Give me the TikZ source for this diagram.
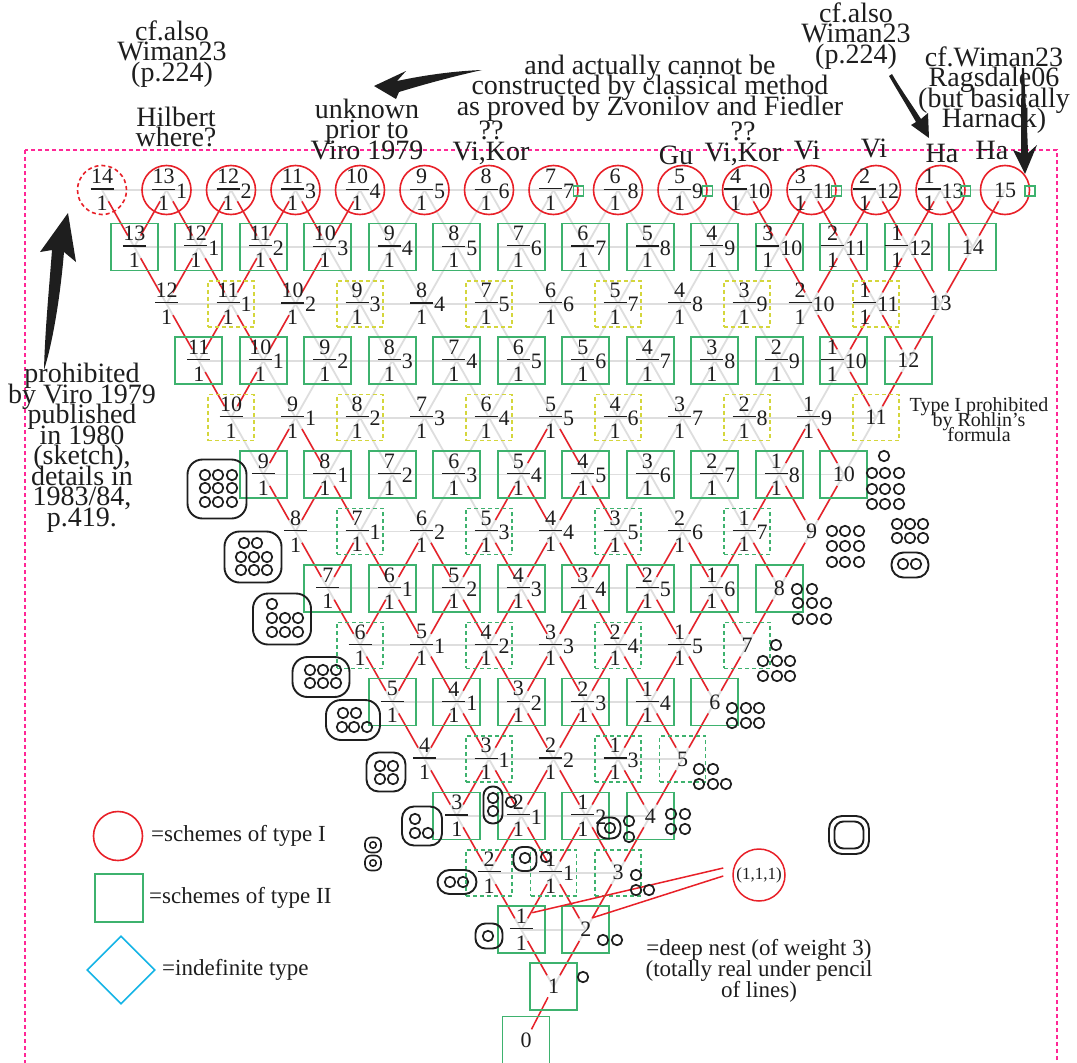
\documentclass[tikz,border=0pt]{standalone}
\usepackage{fontspec}
\setmainfont{Liberation Serif}
\usetikzlibrary{calc,backgrounds,shapes.geometric}
\definecolor{redc}{RGB}{232,32,40}
\definecolor{greenc}{RGB}{62,178,110}
\definecolor{yelc}{RGB}{212,214,60}
\definecolor{greyc}{RGB}{222,222,222}
\definecolor{pinkc}{RGB}{255,40,150}
\definecolor{cyanc}{RGB}{20,180,230}
\definecolor{inkc}{RGB}{30,30,30}
\setlength\lineskiplimit{-60pt}
\setlength\lineskip{0pt}
\newcommand\fr[1]{$\vcenter{\offinterlineskip\halign{\hbox to 23pt{\hfil##\hfil}\cr #1\cr\noalign{\kern4.5pt\hrule height1.1pt\kern6.5pt}1\cr}}$}
\newcommand\labA[3]{\hbox to 0pt{\hss\kern#3\fr{#1}\kern1pt\lower3pt\hbox{#2}\hss}}
\begin{document}
\begin{tikzpicture}[x=1pt,y=-1pt,
  lab/.style={inner sep=0pt,text=inkc,font=\fontsize{22}{24}\selectfont},
  plainlab/.style={},
  circ/.style={circle,draw=redc,line width=1.6pt,minimum size=49pt,inner sep=0pt},
  circd/.style={circ,dash pattern=on 4pt off 3pt},
  gbox/.style={rectangle,draw=greenc,line width=1.6pt,minimum size=47pt,inner sep=0pt},
  ybox/.style={rectangle,draw=yelc,line width=1.4pt,dash pattern=on 4pt off 3pt,minimum size=46pt},
  gdbox/.style={rectangle,draw=greenc,line width=1.4pt,dash pattern=on 4pt off 3pt,minimum size=46pt},
  minisq/.style={rectangle,draw=greenc,line width=1.6pt,minimum size=10pt,inner sep=0pt},
  gline/.style={greyc,line width=1.8pt},
  rline/.style={redc,line width=1.5pt},
  ov/.style={rectangle,draw=inkc,line width=1.9pt,inner sep=0pt},
  smalldot/.style={circle,draw=inkc,line width=1.7pt,minimum size=10.5pt,inner sep=0pt},
  txt/.style={inner sep=0pt,align=center,text=inkc,font=\fontsize{28}{20.5}\selectfont},
  arr/.style={fill=inkc,draw=none}]
\useasboundingbox (0,0) rectangle (1077,1063);
\begin{pgfonlayer}{background}
\fill[white] (0,0) rectangle (1077,1063);
\end{pgfonlayer}
% frame
\draw[pinkc,line width=1.2pt,dash pattern=on 4pt off 3pt] (25,150) rectangle (1057,1090);
% lattice nodes
\foreach \ro in {0,...,14}{%
  \pgfmathtruncatemacro\lst{14-\ro}%
  \foreach \ix in {0,...,\lst}{%
    \pgfmathtruncatemacro\av{14-\ro-\ix}%
    \pgfmathtruncatemacro\zv{15-\ro}%
    \def\sty{plainlab}%
    \ifodd\ro \def\sty{gbox}\fi
    \ifnum\ro=14 \def\sty{gbox}\fi
    \ifnum\ro=0 \ifnum\ix=0 \def\sty{circd}\else\def\sty{circ}\fi\fi
    \ifnum\ro=2 \ifodd\ix \def\sty{ybox}\fi\fi
    \ifnum\ro=4 \ifodd\ix \else\def\sty{ybox}\fi\fi
    \ifnum\ro=6 \ifodd\ix \def\sty{gdbox}\fi\fi
    \ifnum\ro=8 \ifodd\ix \else\def\sty{gdbox}\fi\fi
    \ifnum\ro=10 \ifodd\ix \def\sty{gdbox}\fi \ifnum\ix=4 \def\sty{gdbox}\fi\fi
    \ifnum\ro=12 \def\sty{gdbox}\fi
    \node[lab,\sty] (n-\ro-\ix) at ({102+32.25*\ro+64.5*\ix},{190+56.9*\ro})
      {\ifnum\ix=\lst\relax\zv\else\ifnum\ix=0 \fr{\av}\else\ifnum\ix<10 \labA{\av}{\ix}{6pt}\else\labA{\av}{\ix}{0pt}\fi\fi\fi};
  }%
}
\node[lab,gbox] (n15) at (526,1040) {0};
% mini squares on row 0
\foreach \k in {7,9,11,13,14} \node[minisq] (m\k) at ($(n-0-\k.center)+(25,1)$) {};
% lattice lines
\begin{pgfonlayer}{background}
\foreach \ro in {0,...,13}{%
  \pgfmathtruncatemacro\lst{14-\ro}%
  \pgfmathtruncatemacro\nr{\ro+1}%
  \draw[gline] (n-\ro-0.center) -- (n-\ro-\lst.center);
  \foreach \ix in {0,...,\lst}{%
    \ifnum\ix>0 \pgfmathtruncatemacro\jx{\ix-1}\draw[gline] (n-\ro-\ix.center) -- (n-\nr-\jx.center);\fi
    \ifnum\ix<\lst \draw[gline] (n-\ro-\ix.center) -- (n-\nr-\ix.center);\fi
  }%
}
\foreach \ro/\ix/\jx in {0/0/0,0/1/0,0/1/1,0/2/1,0/2/2,0/3/2,0/3/3,0/4/3,0/10/10,0/11/10,0/11/11,0/12/11,0/12/12,0/13/12,0/13/13,0/14/13,
  1/0/0,1/1/0,1/1/1,1/2/1,1/2/2,1/3/2,1/10/10,1/11/10,1/11/11,1/12/11,1/12/12,1/13/12,
  2/0/0,2/1/0,2/1/1,2/2/1,2/10/10,2/11/10,2/11/11,2/12/11,
  3/0/0,3/1/0,3/10/10,3/11/10,
  4/1/0,4/1/1,4/5/4,4/5/5,4/9/8,4/9/9,
  5/0/0,5/1/0,5/1/1,5/4/3,5/4/4,5/5/4,5/5/5,5/8/7,5/8/8,5/9/8}{%
  \pgfmathtruncatemacro\nr{\ro+1}%
  \draw[rline] ($(n-\ro-\ix.center)!0.2!(n-\nr-\jx.center)$) -- ($(n-\ro-\ix.center)!0.8!(n-\nr-\jx.center)$);
}
\foreach \ro in {6,...,13}{%
  \pgfmathtruncatemacro\lst{14-\ro}%
  \pgfmathtruncatemacro\nr{\ro+1}%
  \foreach \ix in {0,...,\lst}{%
    \ifnum\ix>0 \pgfmathtruncatemacro\jx{\ix-1}\draw[rline] ($(n-\ro-\ix.center)!0.2!(n-\nr-\jx.center)$) -- ($(n-\ro-\ix.center)!0.8!(n-\nr-\jx.center)$);\fi
    \ifnum\ix<\lst \draw[rline] ($(n-\ro-\ix.center)!0.2!(n-\nr-\ix.center)$) -- ($(n-\ro-\ix.center)!0.8!(n-\nr-\ix.center)$);\fi
  }%
}
\draw[rline] ($(n-14-0.center)!0.2!(n15.center)$) -- ($(n-14-0.center)!0.8!(n15.center)$);
\end{pgfonlayer}
% (1,1,1)
\node[circle,draw=redc,line width=1.5pt,minimum size=52pt,inner sep=0pt,text=inkc,font=\fontsize{17}{17}\selectfont] (c111) at (759,875) {(1,1,1)};
\draw[rline] ($(c111.west)+(-9,-7)$) -- ($(n-13-0.center)+(11,-17)$);
\draw[rline] ($(c111.west)+(-9,1)$) -- ($(n-13-1.center)+(7,-12)$);
% oval configurations, left side
\node[ov,rounded corners=15pt,minimum width=59pt,minimum height=59pt] (oA) at (217,489) {};
\foreach \x/\y [count=\k] in {205/475,218/475,232/475,205/488,218/488,232/488,205/502,218/502,232/502} \node[smalldot] (dA\k) at (\x,\y) {};
\node[ov,rounded corners=15pt,minimum width=57pt,minimum height=51pt] (oB) at (253,557) {};
\foreach \x/\y [count=\k] in {244/543,257/543,241/557,254/557,267/557,241/570,254/570,267/570} \node[smalldot] (dB\k) at (\x,\y) {};
\node[ov,rounded corners=15pt,minimum width=58pt,minimum height=51pt] (oC) at (282,619) {};
\foreach \x/\y [count=\k] in {272/604,272/618,285/618,298/618,272/632,285/632,298/632} \node[smalldot] (dC\k) at (\x,\y) {};
\node[ov,rounded corners=15pt,minimum width=57pt,minimum height=40pt] (oD) at (321,677) {};
\foreach \x/\y [count=\k] in {310/670,323/670,336/670,310/683,323/683,336/683} \node[smalldot] (dD\k) at (\x,\y) {};
\node[ov,rounded corners=15pt,minimum width=54pt,minimum height=40pt] (oE) at (353,720) {};
\foreach \x/\y [count=\k] in {343/713,356/713,342/727,354/727,367/727} \node[smalldot] (dE\k) at (\x,\y) {};
\node[ov,rounded corners=12pt,minimum width=39pt,minimum height=39pt] (oF) at (386,772) {};
\foreach \x/\y [count=\k] in {380/766,393/766,380/779,393/779} \node[smalldot] (dF\k) at (\x,\y) {};
\node[ov,rounded corners=12pt,minimum width=40pt,minimum height=39pt] (oG) at (422,826) {};
\foreach \x/\y [count=\k] in {415/819,415/833,428/833} \node[smalldot] (dG\k) at (\x,\y) {};
\node[ov,rounded corners=6pt,minimum width=16pt,minimum height=15pt,line width=1.6pt] (oH1) at (373,845) {};
\node[smalldot,minimum size=6.5pt,line width=1.5pt] (dH1) at (373,845) {};
\node[ov,rounded corners=6pt,minimum width=16pt,minimum height=15pt,line width=1.6pt] (oH2) at (373,863) {};
\node[smalldot,minimum size=6.5pt,line width=1.5pt] (dH2) at (373,863) {};
\node[ov,rounded corners=12pt,minimum width=39pt,minimum height=24pt] (oI) at (457,882) {};
\foreach \x/\y [count=\k] in {450/882,463/882} \node[smalldot] (dI\k) at (\x,\y) {};
\node[ov,rounded corners=9pt,minimum width=19pt,minimum height=37pt] (oJ) at (493,805) {};
\foreach \x/\y [count=\k] in {493/798,493/811,511/802} \node[smalldot] (dJ\k) at (\x,\y) {};
\node[ov,rounded corners=9pt,minimum width=23pt,minimum height=24pt] (oK) at (525,859) {};
\foreach \x/\y [count=\k] in {525/858,546/857} \node[smalldot] (dK\k) at (\x,\y) {};
\node[ov,rounded corners=9pt,minimum width=23pt,minimum height=21pt] (oL) at (609,828) {};
\foreach \x/\y [count=\k] in {610/828,629/821,629/837} \node[smalldot] (dL\k) at (\x,\y) {};
\node[ov,rounded corners=10pt,minimum width=27pt,minimum height=25pt] (oM) at (489,936) {};
\node[smalldot] (dM1) at (488,936) {};
% loose ovals, right side
\foreach \x/\y [count=\k] in {699/769,713/769,699/784,713/784,726/784} \node[smalldot] (dN\k) at (\x,\y) {};
\foreach \x/\y [count=\k] in {671/814,685/814,671/829,685/829} \node[smalldot] (dO\k) at (\x,\y) {};
\foreach \x/\y [count=\k] in {636/875,636/890,649/890} \node[smalldot] (dP\k) at (\x,\y) {};
\foreach \x/\y [count=\k] in {603/940,617/940} \node[smalldot] (dQ\k) at (\x,\y) {};
\node[smalldot] (dR1) at (583,977) {};
\foreach \x/\y [count=\k] in {732/708,746/708,759/708,732/723,746/723,759/723} \node[smalldot] (dS\k) at (\x,\y) {};
\foreach \x/\y [count=\k] in {776/645,763/661,777/661,790/661,763/676,777/676,790/676} \node[smalldot] (dT\k) at (\x,\y) {};
\foreach \x/\y [count=\k] in {797/589,812/589,798/603,812/603,826/603,798/619,812/619,826/619} \node[smalldot] (dU\k) at (\x,\y) {};
\foreach \x/\y [count=\k] in {832/531,845/531,859/531,832/546,845/546,859/546,832/562,845/562,859/562} \node[smalldot] (dV\k) at (\x,\y) {};
\foreach \x/\y [count=\k] in {884/456,872/473,885/473,899/473,872/489,885/489,899/489,872/504,885/504,899/504} \node[smalldot] (dW\k) at (\x,\y) {};
\foreach \x/\y [count=\k] in {897/524,910/524,923/524,897/538,910/538,923/538} \node[smalldot] (dX\k) at (\x,\y) {};
\node[ov,rounded corners=12pt,minimum width=37pt,minimum height=25pt] (oX) at (910,565) {};
\foreach \x/\y [count=\k] in {903/564,916/564} \node[smalldot] (dXo\k) at (\x,\y) {};
% deep nest symbol
\node[ov,rounded corners=13pt,minimum width=40pt,minimum height=38pt] (nestO) at (849,835) {};
\node[ov,rounded corners=9pt,minimum width=29pt,minimum height=27pt] (nestI) at (849,835) {};
% texts
\node[txt] (t1) at (172,54) {cf.also\\Wiman23\\(p.224)};
\node[txt] (t2) at (176,127) {Hilbert\\where?};
\node[txt] (t3) at (367,129) {unknown\\prior to\\Viro 1979};
\node[txt] (t4) at (650,88) {and actually cannot be\\constructed by classical method\\as proved by Zvonilov and Fiedler};
\node[txt] (t5) at (491,143) {??\\Vi,Kor};
\node[txt] (t6) at (676,155) {Gu};
\node[txt] (t7) at (743,144) {??\\Vi,Kor};
\node[txt] (t8) at (807,150) {Vi};
\node[txt] (t9) at (874,148) {Vi};
\node[txt] (t10) at (942,153) {Ha};
\node[txt] (t11) at (992,150) {Ha};
\node[txt] (t12) at (856,36) {cf.also\\Wiman23\\(p.224)};
\node[txt] (t13) at (994,90) {cf.Wiman23\\Ragsdale06\\(but basically\\Harnack)};
\node[txt] (t14) at (82,448) {prohibited\\by Viro 1979\\published\\in 1980\\(sketch),\\details in\\1983/84,\\p.419.};
\node[txt,font=\fontsize{20}{15}\selectfont] (t15) at (979,420) {Type I prohibited\\by Rohlin's\\formula};
% legend
\node[circ] (legI) at (118,836) {};
\node[gbox,minimum size=48pt] (legII) at (119,898) {};
\node[diamond,draw=cyanc,line width=1.6pt,minimum width=68pt,minimum height=68pt,inner sep=0pt] (legD) at (121,970) {};
\node[txt,font=\fontsize{23}{23}\selectfont,anchor=west] (legIt) at (151,836) {=schemes of type I};
\node[txt,font=\fontsize{23}{23}\selectfont,anchor=west] (legIIt) at (149,898) {=schemes of type II};
\node[txt,font=\fontsize{23}{23}\selectfont,anchor=west] (legDt) at (162,970) {=indefinite type};
\node[txt,font=\fontsize{23}{21}\selectfont] (dn) at (759,971) {=deep nest (of weight 3)\\(totally real under pencil\\of lines)};
% big arrows
\fill[arr] (68,213) -- (76,262) -- (64,252) .. controls (60,300) and (52,345) .. (44,370) .. controls (45,330) and (49,290) .. (52,250) -- (40,252) -- cycle;
\fill[arr] (374,86) -- (406,71) -- (397,81) .. controls (425,75) and (455,71) .. (482,70) .. controls (455,76) and (425,84) .. (399,92) -- (396,99) -- cycle;
\fill[arr] (929,138) -- (928,113) -- (921,119) .. controls (910,102) and (900,88) .. (892,74) -- (889,76) .. controls (897,90) and (907,106) .. (916,122) -- (911,125) -- cycle;
\fill[arr] (1025,174) -- (1037,145) -- (1028,153) .. controls (1027,120) and (1025,95) .. (1024,68) -- (1022,68) .. controls (1021,95) and (1021,120) .. (1021,153) -- (1013,150) -- cycle;
\end{tikzpicture}
\end{document}
